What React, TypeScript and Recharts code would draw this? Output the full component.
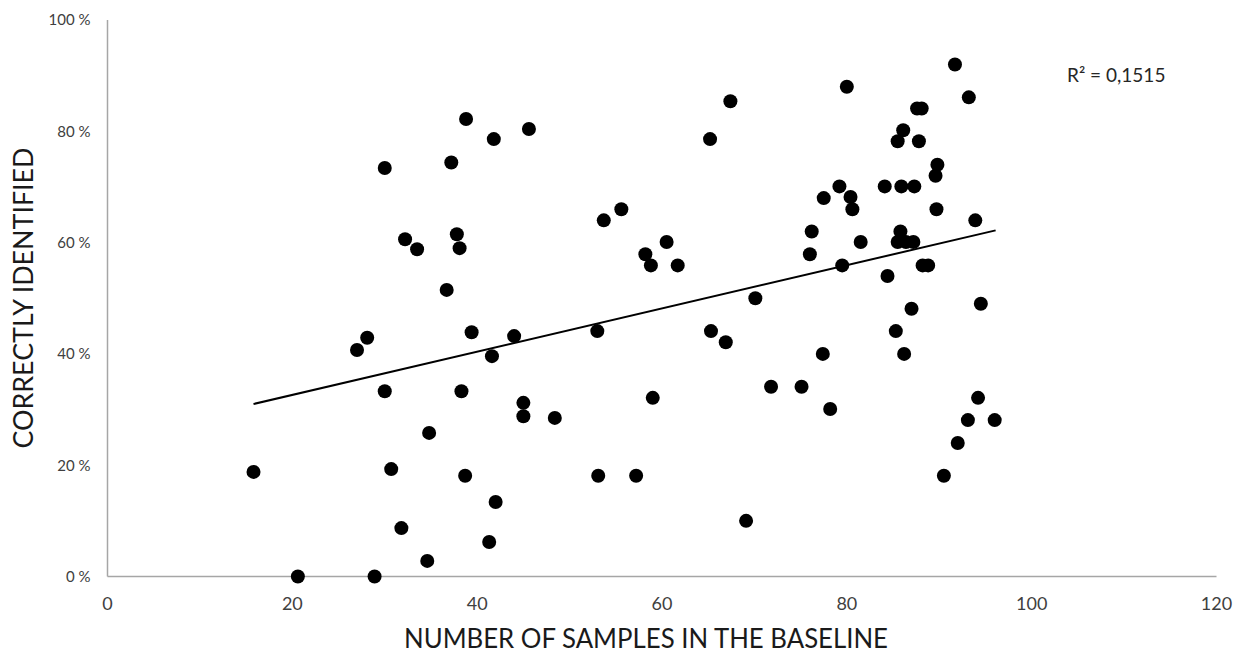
import React from "react";
import {
  ScatterChart, Scatter, XAxis, YAxis, ReferenceLine,
} from "recharts";

// samples in baseline (x) vs. % correctly identified (y)
const SAMPLES = [
  15.8, 20.6, 28.9, 27.0, 28.1, 30.0, 30.0, 30.7, 31.8, 32.2,
  33.5, 34.8, 34.6, 36.7, 37.2, 37.8, 38.1, 38.3, 38.7, 38.8,
  39.4, 41.3, 41.6, 41.8, 42.0, 44.0, 45.0, 45.0, 45.6, 48.4,
  53.0, 53.1, 53.7, 55.6, 57.2, 58.2, 58.8, 59.0, 60.5, 61.7,
  65.2, 65.3, 66.9, 67.4, 69.1, 70.1, 71.8, 75.1, 76.0, 76.2,
  77.5, 77.4, 78.2, 79.2, 79.5, 80.0, 80.4, 80.6, 81.5, 84.1,
  84.4, 85.3, 85.5, 85.5, 85.8, 86.1, 85.9, 86.2, 86.4, 87.0,
  87.2, 87.3, 87.6, 88.1, 87.8, 88.2, 88.8, 89.6, 89.8, 89.7,
  91.7, 92.0, 90.5, 93.1, 93.2, 93.9, 94.2, 94.5, 96.0,
];
const CORRECT = [
  18.8, 0, 0, 40.7, 42.9, 73.4, 33.3, 19.3, 8.7, 60.6,
  58.8, 25.8, 2.8, 51.5, 74.4, 61.5, 59.0, 33.3, 18.1, 82.2,
  43.9, 6.2, 39.6, 78.6, 13.4, 43.2, 31.2, 28.8, 80.4, 28.5,
  44.1, 18.1, 64.0, 66.0, 18.1, 57.9, 55.9, 32.1, 60.1, 55.9,
  78.6, 44.1, 42.1, 85.4, 10.0, 50.0, 34.1, 34.1, 57.9, 62.0,
  68.0, 40.0, 30.1, 70.1, 55.9, 88.0, 68.2, 66.0, 60.1, 70.1,
  54.0, 44.1, 78.2, 60.1, 62.0, 80.2, 70.1, 40.0, 60.1, 48.1,
  60.1, 70.1, 84.1, 84.1, 78.2, 55.9, 55.9, 72.0, 74.0, 66.0,
  92.0, 24.0, 18.1, 28.1, 86.1, 64.0, 32.1, 49.0, 28.1,
];

const X_TICKS = [0, 20, 40, 60, 80, 100, 120];
const Y_TICKS = [0, 20, 40, 60, 80, 100];

// linear trendline end points (as drawn)
const TREND_X = [15.8, 96.1];
const TREND_Y = [31.0, 62.2];
const R2_LABEL = "R² = 0,1515";

const points = SAMPLES.map((x, i) => ({ x, y: CORRECT[i] }));

const FONT = "Lato, 'Open Sans', sans-serif";
const AXIS = "#a6a6a6";
const TICK = "#404040";

const Dot = (p: any) => <circle cx={p.cx} cy={p.cy} r={7} fill="#000" />;

export default function App() {
  return (
    <div style={{ position: "absolute", left: 0, top: 0, width: 1246, height: 655, background: "#fff" }}>
      <ScatterChart
        width={1246}
        height={655}
        margin={{ top: 20, right: 29.5, bottom: 48.5, left: 47.5 }}
      >
        <XAxis
          type="number"
          dataKey="x"
          domain={[0, 120]}
          ticks={X_TICKS}
          height={30}
          stroke={AXIS}
          strokeWidth={1.5}
          tickLine={false}
          tickSize={0}
          tickMargin={21}
          tick={{ fontSize: 18, fill: TICK, fontFamily: FONT }}
          label={{
            value: "NUMBER OF SAMPLES IN THE BASELINE",
            content: () => (
              <text x={646} y={648} textAnchor="middle" fontSize={26} fill="#1a1a1a"
                fontFamily={FONT} textLength={484} lengthAdjust="spacingAndGlyphs">
                NUMBER OF SAMPLES IN THE BASELINE
              </text>
            ),
          }}
        />
        <YAxis
          type="number"
          dataKey="y"
          domain={[0, 100]}
          ticks={Y_TICKS}
          width={60}
          stroke={AXIS}
          strokeWidth={1.5}
          tickLine={false}
          tickSize={0}
          tickMargin={17}
          tickFormatter={(v: number) => `${v} %`}
          tick={{ fontSize: 15, fill: TICK, fontFamily: FONT }}
          label={{
            value: "CORRECTLY IDENTIFIED",
            content: () => (
              <text x={33} y={298} transform="rotate(-90 33 298)" textAnchor="middle"
                fontSize={26} fill="#1a1a1a" fontFamily={FONT}
                textLength={301} lengthAdjust="spacingAndGlyphs">
                CORRECTLY IDENTIFIED
              </text>
            ),
          }}
        />
        <ReferenceLine
          segment={[
            { x: TREND_X[0], y: TREND_Y[0] },
            { x: TREND_X[1], y: TREND_Y[1] },
          ]}
          stroke="#000"
          strokeWidth={2}
        />
        <Scatter data={points} shape={Dot} isAnimationActive={false} />
        <text x={1067} y={82} fontSize={19} fill="#262626" fontFamily={FONT}>
          {R2_LABEL}
        </text>
      </ScatterChart>
    </div>
  );
}
